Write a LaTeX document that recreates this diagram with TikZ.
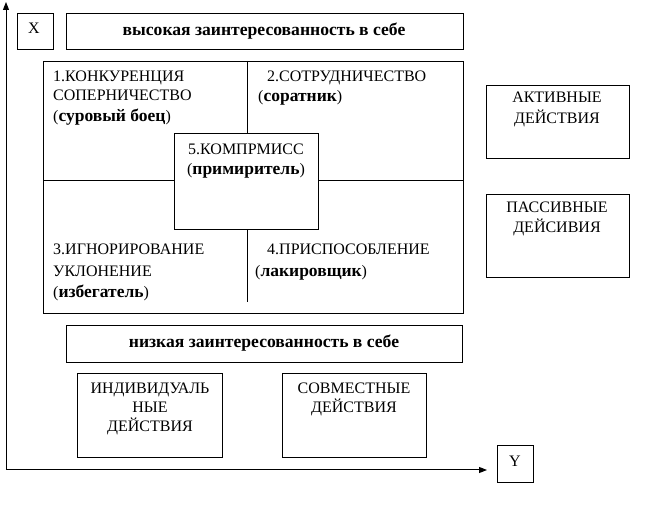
\documentclass[tikz,border=0pt]{standalone}
\usepackage{fontspec}
\setmainfont{Liberation Serif}
\usetikzlibrary{arrows.meta}
\newcommand\bw[1]{{\fontsize{17.5}{20}\selectfont\bfseries #1}}
\begin{document}
\begin{tikzpicture}[x=1pt,y=-1pt,
  box/.style={draw, line width=1pt, inner sep=0pt, anchor=north west},
  txt/.style={inner sep=0pt, font=\fontsize{16}{19}\selectfont},
  btxt/.style={inner sep=0pt, font=\fontsize{17.6}{20}\selectfont\bfseries},
  divider/.style={line width=1pt},
  axis/.style={line width=1pt, -{Triangle[length=8pt,width=6pt]}}]
\useasboundingbox (0,0) rectangle (654,518);
% boxes
\node[box, minimum width=36pt, minimum height=36pt] (xbox) at (17,13) {};
\node[box, minimum width=397pt, minimum height=36pt] (high) at (66,13) {};
\node[box, minimum width=420pt, minimum height=252pt] (grid) at (43,61) {};
\node[box, fill=white, minimum width=144pt, minimum height=96pt] (comp) at (174,133) {};
\node[box, minimum width=143pt, minimum height=73pt] (active) at (486,85) {};
\node[box, minimum width=143pt, minimum height=83pt] (passive) at (486,194) {};
\node[box, minimum width=396pt, minimum height=37pt] (low) at (66,325) {};
\node[box, minimum width=145pt, minimum height=84pt] (indiv) at (77,373) {};
\node[box, minimum width=144pt, minimum height=84pt] (joint) at (282,373) {};
\node[box, minimum width=36pt, minimum height=37pt] (ybox) at (497,445) {};
% dividers
\coordinate (vtop) at (247,61);
\coordinate (vbot) at (247,302);
\coordinate (hleft) at (43,181);
\coordinate (hright) at (463,181);
\draw[divider] (vtop) -- (vtop |- comp.north);
\draw[divider] (vtop |- comp.south) -- (vbot);
\draw[divider] (hleft) -- (hleft -| comp.west);
\draw[divider] (hleft -| comp.east) -- (hright);
% axes
\coordinate (O) at (6,470);
\coordinate (ytip) at (6,2);
\coordinate (xtip) at (487,470);
\draw[axis] (O) -- (ytip);
\draw[axis] (O) -- (xtip);
% texts
\node[txt, anchor=base] (xl) at (34,34) {X};
\node[txt, anchor=base] (yl) at (515,467) {Y};
\node[btxt, anchor=base] (hight) at (264,36) {высокая заинтересованность в себе};
\node[btxt, anchor=base] (lowt) at (264,348) {низкая заинтересованность в себе};
\node[txt, anchor=base west] (q1a) at (53,82) {1.КОНКУРЕНЦИЯ};
\node[txt, anchor=base west] (q1b) at (53,101) {СОПЕРНИЧЕСТВО};
\node[txt, anchor=base west] (q1c) at (53,122) {(\bw{суровый боец})};
\node[txt, anchor=base west] (q2a) at (267,82) {2.СОТРУДНИЧЕСТВО};
\node[txt, anchor=base west] (q2b) at (258,102) {(\bw{соратник})};
\node[txt, anchor=base] (q5a) at (246,155) {5.КОМПРМИСС};
\node[txt, anchor=base] (q5b) at (246,175) {(\bw{примиритель})};
\node[txt, anchor=base west] (q3a) at (53,255) {3.ИГНОРИРОВАНИЕ};
\node[txt, anchor=base west] (q3b) at (53,277) {УКЛОНЕНИЕ};
\node[txt, anchor=base west] (q3c) at (53,298) {(\bw{избегатель})};
\node[txt, anchor=base west] (q4a) at (267,255) {4.ПРИСПОСОБЛЕНИЕ};
\node[txt, anchor=base west] (q4b) at (255,277) {(\bw{лакировщик})};
\node[txt, anchor=base] (act1) at (557,103) {АКТИВНЫЕ};
\node[txt, anchor=base] (act2) at (557,124) {ДЕЙСТВИЯ};
\node[txt, anchor=base] (pas1) at (557,213) {ПАССИВНЫЕ};
\node[txt, anchor=base] (pas2) at (557,233) {ДЕЙСИВИЯ};
\node[txt, anchor=base] (ind1) at (150,394) {ИНДИВИДУАЛЬ};
\node[txt, anchor=base] (ind2) at (150,413) {НЫЕ};
\node[txt, anchor=base] (ind3) at (150,432) {ДЕЙСТВИЯ};
\node[txt, anchor=base] (jnt1) at (354,394) {СОВМЕСТНЫЕ};
\node[txt, anchor=base] (jnt2) at (354,413) {ДЕЙСТВИЯ};
\end{tikzpicture}
\end{document}
